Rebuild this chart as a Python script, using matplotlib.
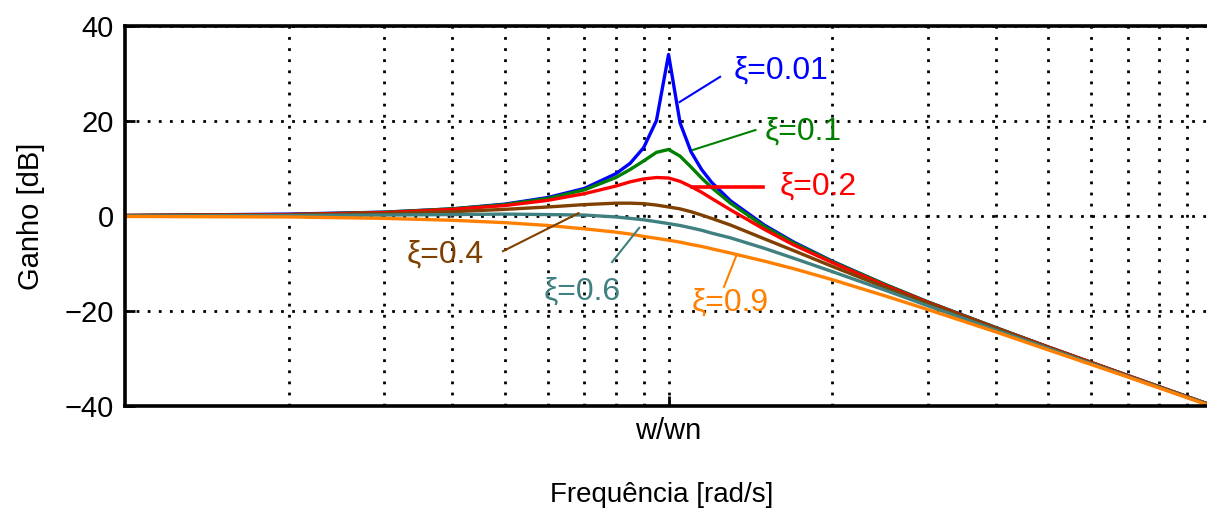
import matplotlib
matplotlib.use("Agg")
import matplotlib.pyplot as plt
from matplotlib.ticker import FixedLocator, NullFormatter

plt.rcParams["font.family"] = ["Liberation Sans", "DejaVu Sans"]

# normalized frequency w/wn
w = [0.1, 0.2, 0.3, 0.4, 0.5, 0.6, 0.7, 0.8, 0.85, 0.9, 0.95, 1.0, 1.05,
     1.1, 1.15, 1.2, 1.3, 1.5, 1.7, 2.0, 2.5, 3.0, 4.0, 5.0, 7.0, 10.0]

# gain [dB]
g_001 = [0.1, 0.4, 0.8, 1.5, 2.5, 3.9, 5.8, 8.9, 11.1, 14.4, 20.1, 34.0, 19.6,
         13.5, 9.8, 7.1, 3.2, -1.9, -5.5, -9.5, -14.4, -18.1, -23.5, -27.6, -33.6, -39.9]
g_01 = [0.1, 0.3, 0.8, 1.5, 2.4, 3.7, 5.5, 8.1, 9.8, 11.6, 13.4, 14.0, 12.6,
        10.3, 8.0, 6.0, 2.7, -2.2, -5.7, -9.6, -14.4, -18.1, -23.5, -27.6, -33.6, -39.9]
g_02 = [0.1, 0.3, 0.7, 1.4, 2.2, 3.3, 4.7, 6.3, 7.2, 7.8, 8.1, 8.0, 7.3,
        6.2, 5.0, 3.7, 1.3, -2.8, -6.1, -9.8, -14.6, -18.2, -23.6, -27.6, -33.6, -39.9]
g_04 = [0.1, 0.2, 0.5, 0.9, 1.4, 1.9, 2.4, 2.7, 2.7, 2.6, 2.3, 1.9, 1.5,
        0.9, 0.2, -0.5, -1.9, -4.8, -7.3, -10.6, -15.0, -18.4, -23.7, -27.7, -33.7, -39.9]
g_06 = [0.0, 0.1, 0.2, 0.3, 0.4, 0.3, 0.2, -0.2, -0.5, -0.8, -1.2, -1.6, -2.0,
        -2.5, -3.0, -3.6, -4.6, -6.8, -8.9, -11.7, -15.6, -18.9, -24.0, -27.9, -33.8, -40.0]
g_09 = [-0.1, -0.2, -0.5, -0.9, -1.4, -2.0, -2.7, -3.4, -3.8, -4.3, -4.7, -5.1, -5.5,
        -6.0, -6.4, -6.9, -7.8, -9.5, -11.1, -13.4, -16.8, -19.7, -24.4, -28.2, -33.9, -40.1]

labels = ["ξ=0.01", "ξ=0.1", "ξ=0.2", "ξ=0.4", "ξ=0.6", "ξ=0.9"]
colors = ["#0000ff", "#008000", "#ff0000", "#7f4000", "#408080", "#ff8000"]
gains = [g_001, g_01, g_02, g_04, g_06, g_09]

fig = plt.figure(figsize=(12.07, 5.13), dpi=100)
# the original picture is cropped on the right, so the axes run past the edge
ax = fig.add_axes([0.1036, 0.2086, 0.9006, 0.7407])

for g, c in zip(gains, colors):
    ax.semilogx(w, g, color=c, lw=2.4)

ax.set_xlim(0.1, 10)
ax.set_ylim(-40, 40)
ax.set_yticks([-40, -20, 0, 20, 40])
ax.xaxis.set_major_locator(FixedLocator([1]))
ax.set_xticklabels(["w/wn"])
ax.xaxis.set_minor_locator(FixedLocator([0.2, 0.3, 0.4, 0.5, 0.6, 0.7, 0.8, 0.9,
                                         2, 3, 4, 5, 6, 7, 8, 9]))
ax.xaxis.set_minor_formatter(NullFormatter())
ax.tick_params(axis="both", which="major", direction="in", length=7, width=2,
               labelsize=21, pad=8)
ax.tick_params(axis="x", which="minor", length=0)
ax.grid(True, which="both", color="black", linestyle=(0, (1, 3)), lw=2)
for s in ax.spines.values():
    s.set_linewidth(2.6)

ax.set_ylabel("Ganho [dB]", fontsize=21, labelpad=14)
ax.set_xlabel("Frequência [rad/s]", fontsize=20)
ax.xaxis.set_label_coords(0.494, -0.2)

# curve labels with leader lines: (text pos, line start, line end, width)
notes = [
    ((1.32, 30.7), (1.244, 29.3), (1.048, 24.0), 1.5),
    ((1.50, 17.7), (1.445, 18.1), (1.108, 13.9), 1.5),
    ((1.60, 6.3), (1.495, 6.1), (1.104, 6.1), 2.6),
    ((0.330, -8.2), (0.496, -7.4), (0.683, 0.6), 1.5),
    ((0.588, -16.0), (0.787, -9.7), (0.883, -2.5), 1.5),
    ((1.103, -18.3), (1.265, -14.9), (1.332, -8.4), 1.5),
]
for (txt, p0, p1, lw), lab, c in zip(notes, labels, colors):
    ax.plot([p0[0], p1[0]], [p0[1], p1[1]], color=c, lw=lw)
    ax.text(txt[0], txt[1], lab, color=c, fontsize=23, ha="left", va="center")

fig.savefig("out.png", dpi=100)
